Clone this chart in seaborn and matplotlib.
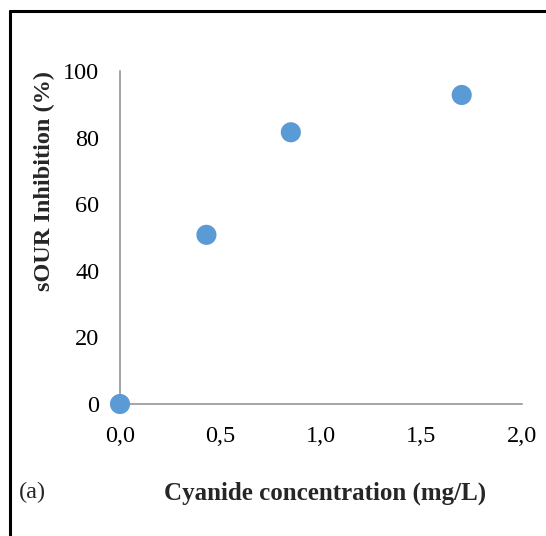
import matplotlib
matplotlib.use('Agg')
import matplotlib.pyplot as plt
import seaborn as sns
import pandas as pd
from matplotlib.lines import Line2D

# data
cyanide = [0.0, 0.43, 0.85, 1.70]
inhibition = [0.0, 50.8, 81.6, 92.8]
x_ticks = [0.0, 0.5, 1.0, 1.5, 2.0]
x_tick_labels = ['0,0', '0,5', '1,0', '1,5', '2,0']
y_ticks = [0, 20, 40, 60, 80, 100]

df = pd.DataFrame({'cyanide': cyanide, 'inhibition': inhibition})

sns.set_style('white')
plt.rcParams['font.family'] = ['Liberation Serif', 'DejaVu Serif']

fig = plt.figure(figsize=(5.46, 5.36), dpi=100)
ax = fig.add_axes([120 / 546, 1 - 404 / 536, 402 / 546, 333 / 536])

sns.scatterplot(data=df, x='cyanide', y='inhibition', ax=ax,
                color='#5B9BD5', s=210, edgecolor='none', clip_on=False, zorder=3)

ax.set_xlim(0, 2)
ax.set_ylim(0, 100)
ax.set_xticks(x_ticks)
ax.set_xticklabels(x_tick_labels)
ax.set_yticks(y_ticks)

grey = '#8c8c8c'
for side in ['top', 'right']:
    ax.spines[side].set_visible(False)
for side in ['left', 'bottom']:
    ax.spines[side].set_color(grey)
    ax.spines[side].set_linewidth(1.1)
ax.tick_params(axis='both', direction='out', length=4, width=1.1, color=grey,
               labelsize=17.5, labelcolor='black')
ax.tick_params(axis='y', pad=11)
ax.tick_params(axis='x', pad=12)

ax.set_xlabel('Cyanide concentration (mg/L)', fontsize=18, fontweight='bold')
ax.set_ylabel('sOUR Inhibition (%)', fontsize=17.5, fontweight='bold')
ax.xaxis.set_label_coords(0.51, -0.267)
ax.xaxis.label.set_va('center')
ax.yaxis.set_label_coords(-0.187, 0.67)
ax.yaxis.label.set_va('center')

fig.text(19 / 546, 1 - 492 / 536, '(a)', fontsize=17.5, va='center', ha='left')

# frame lines at top and left of the picture
fig.add_artist(Line2D([10 / 546, 1], [1 - 11 / 536, 1 - 11 / 536], color='black', lw=2.2))
fig.add_artist(Line2D([10 / 546, 10 / 546], [0, 1 - 11 / 536], color='black', lw=2.2))

fig.savefig('out.png', dpi=100)
